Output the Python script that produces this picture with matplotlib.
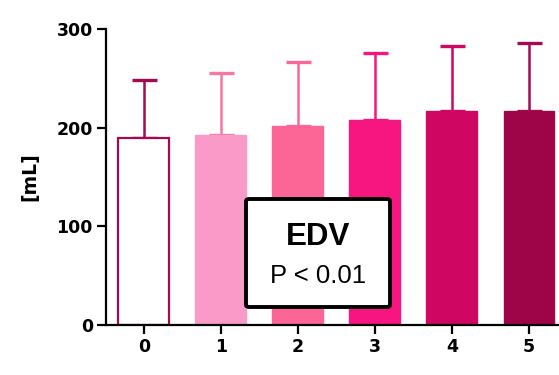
import matplotlib
matplotlib.use("Agg")
import matplotlib.pyplot as plt
from matplotlib.patches import FancyBboxPatch

categories = ["0", "1", "2", "3", "4", "5"]
means = [190, 193, 202, 208, 217, 217]
upper = [248, 255, 267, 276, 283, 286]
yticks = [0, 100, 200, 300]

face_colors = ["#FFFFFF", "#F99AC8", "#FB6696", "#F7157F", "#CF0762", "#9E0548"]
edge_colors = ["#A40A52", "#F99AC8", "#FB6696", "#F7157F", "#CF0762", "#9E0548"]
err_colors = ["#A40A52", "#F7799F", "#FB6696", "#F7157F", "#CF0762", "#A20A55"]

plt.rcParams['font.family'] = ['DejaVu Sans']

fig = plt.figure(figsize=(5.59, 3.75), dpi=100)
ax = fig.add_axes([106/559, 1-325/375, 1-106/559, (325-29)/375])

x = list(range(len(categories)))
errs = [u - m for u, m in zip(upper, means)]
for i in x:
    lw = 1.6 if i == 0 else 1.0
    ax.bar(i, means[i], width=0.66, color=face_colors[i], edgecolor=edge_colors[i],
           linewidth=lw, zorder=2)
    ax.errorbar(i, means[i], yerr=[[0], [errs[i]]], ecolor=err_colors[i], elinewidth=1.8,
                capsize=9, capthick=2.4, fmt='none', zorder=1)

ax.set_xlim(-0.49, 5.39)
ax.set_ylim(0, 300)
ax.set_yticks(yticks)
ax.set_xticks(x)
ax.set_xticklabels(categories)
for s in ["top", "right"]:
    ax.spines[s].set_visible(False)
for s in ["left", "bottom"]:
    ax.spines[s].set_linewidth(1.6)
ax.tick_params(axis='both', width=1.6, length=6.5, labelsize=12.5, direction='out', pad=3)
for lab in ax.get_xticklabels() + ax.get_yticklabels():
    lab.set_fontweight('bold')
ax.set_ylabel("[mL]", fontsize=13.5, fontweight='bold', labelpad=12)

box = FancyBboxPatch((246/559, 1-307/375), (390-246)/559, (307-199)/375,
                     boxstyle="round,pad=0,rounding_size=0.006", transform=fig.transFigure,
                     facecolor='white', edgecolor='black', linewidth=2.8, zorder=5)
fig.patches.append(box)
fig.text(318/559, 1-237/375, "EDV", fontsize=22.5, fontweight='bold', ha='center', va='center',
         family=['Liberation Sans', 'DejaVu Sans'], zorder=6)
fig.text(318/559, 1-276/375, "P < 0.01", fontsize=18.5, ha='center', va='center',
         family=['Liberation Sans', 'DejaVu Sans'], zorder=6)

fig.savefig("out.png", dpi=100)
